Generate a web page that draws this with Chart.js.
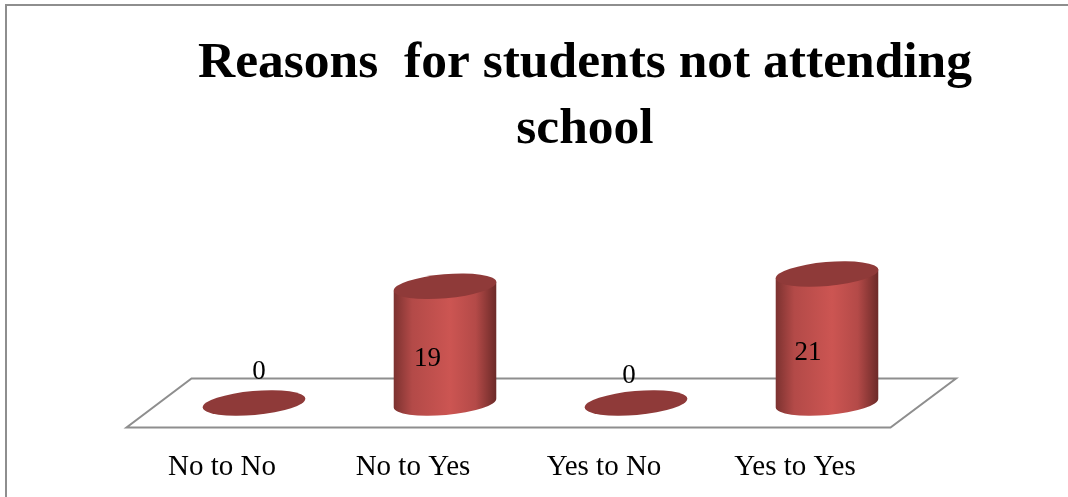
<!DOCTYPE html>
<html>
<head>
<meta charset="utf-8">
<title>Reasons for students not attending school</title>
<script src="https://cdn.jsdelivr.net/npm/chart.js@4"></script>
<style>
  html, body { margin: 0; padding: 0; background: #fff; }
  canvas { display: block; }
</style>
</head>
<body>
<canvas id="myChart" width="1068" height="497"></canvas>
<script>
'use strict';

const categories = ['No to No', 'No to Yes', 'Yes to No', 'Yes to Yes'];
const students = [0, 19, 0, 21];
const titleLines = ['Reasons  for students not attending', 'school'];

// value labels sit off-centre on each column: [dx, dy from the column base]
const labelNudge = [[5, -31], [-17.5, -44], [-7, -27], [-19, -50]];

const serif = '"Liberation Serif", serif';
const capColor = '#8f3a39';
const floorColor = '#8e8e8e';

// outline of a tilted ellipse, used for the caps and the column bottom
function capPath(ctx, x, y, rx, ry, tilt) {
  ctx.beginPath();
  ctx.ellipse(x, y, rx, ry, tilt, 0, Math.PI * 2);
}

function drawCylinder(ctx, bar) {
  const { x, y, base, width } = bar.getProps(['x', 'y', 'base', 'width'], true);
  const rx = width / 2;
  const ry = 12;
  const tilt = -5 * Math.PI / 180;
  const dy = rx * Math.sin(tilt);
  const dx = rx * Math.cos(tilt);

  if (base - y > 0.5) {
    const side = ctx.createLinearGradient(x - dx, 0, x + dx, 0);
    side.addColorStop(0, '#7c3230');
    side.addColorStop(0.18, '#b34a48');
    side.addColorStop(0.55, '#cc5552');
    side.addColorStop(0.8, '#b44a48');
    side.addColorStop(1, '#6c2a28');
    ctx.fillStyle = side;
    ctx.beginPath();
    ctx.moveTo(x - dx, y - dy);
    ctx.lineTo(x - dx, base - dy);
    ctx.ellipse(x, base, rx, ry, tilt, Math.PI, 0, true);
    ctx.lineTo(x + dx, y + dy);
    ctx.closePath();
    ctx.fill();
  }
  ctx.fillStyle = capColor;
  capPath(ctx, x, y, rx, ry, tilt);
  ctx.fill();
}

const cylinderPlugin = {
  id: 'cylinders',
  beforeDraw(chart) {
    const { ctx, chartArea, scales } = chart;
    const zero = scales.y.getPixelForValue(0);
    ctx.save();
    // outer frame, only top and left are inside the page
    ctx.strokeStyle = floorColor;
    ctx.lineWidth = 2;
    ctx.beginPath();
    ctx.moveTo(6, 497);
    ctx.lineTo(6, 5);
    ctx.lineTo(1068, 5);
    ctx.stroke();
    // floor of the 3d plot
    ctx.beginPath();
    ctx.moveTo(chartArea.left - 32, zero + 24.5);
    ctx.lineTo(chartArea.right - 32, zero + 24.5);
    ctx.lineTo(chartArea.right + 33.5, zero - 24.5);
    ctx.lineTo(chartArea.left + 33, zero - 24.5);
    ctx.closePath();
    ctx.stroke();
    ctx.restore();
  },
  afterDatasetsDraw(chart) {
    const { ctx } = chart;
    const bars = chart.getDatasetMeta(0).data;
    ctx.save();
    bars.forEach(bar => drawCylinder(ctx, bar));
    ctx.fillStyle = '#000';
    ctx.font = '27px ' + serif;
    ctx.textAlign = 'center';
    ctx.textBaseline = 'middle';
    bars.forEach((bar, i) => {
      ctx.fillText(String(students[i]), bar.x + labelNudge[i][0], bar.base + labelNudge[i][1]);
    });
    ctx.restore();
  }
};

const chartCanvas = document.getElementById('myChart');

new Chart(chartCanvas, {
  type: 'bar',
  plugins: [cylinderPlugin],
  data: {
    labels: categories,
    datasets: [{
      label: 'Students',
      data: students,
      backgroundColor: 'rgba(0,0,0,0)',
      barPercentage: 0.539,
      categoryPercentage: 1
    }]
  },
  options: {
    responsive: false,
    animation: false,
    layout: { padding: { left: 102, right: 0, top: 0, bottom: 0 } },
    plugins: {
      legend: { display: false },
      tooltip: { enabled: false },
      title: {
        display: true,
        text: titleLines,
        color: '#000',
        font: { family: serif, size: 51.5, weight: 'bold', lineHeight: 1.282 },
        padding: { top: 30.5, bottom: 86.9 }
      }
    },
    scales: {
      x: {
        grid: { display: false },
        border: { display: false },
        ticks: {
          color: '#000',
          font: { family: serif, size: 29 },
          labelOffset: -32,
          padding: 39,
          maxRotation: 0
        },
        afterFit(scale) { scale.height = 94; }
      },
      y: {
        min: 0,
        max: 25,
        grid: { display: false },
        border: { display: false },
        ticks: { display: false },
        afterFit(scale) { scale.width = 56.5; }
      },
      // empty right-hand axis, keeps the plot left of the title centre
      rightGap: {
        axis: 'y',
        position: 'right',
        grid: { display: false },
        border: { display: false },
        ticks: { display: false },
        afterFit(scale) { scale.width = 145.5; }
      }
    }
  }
});
</script>
</body>
</html>
